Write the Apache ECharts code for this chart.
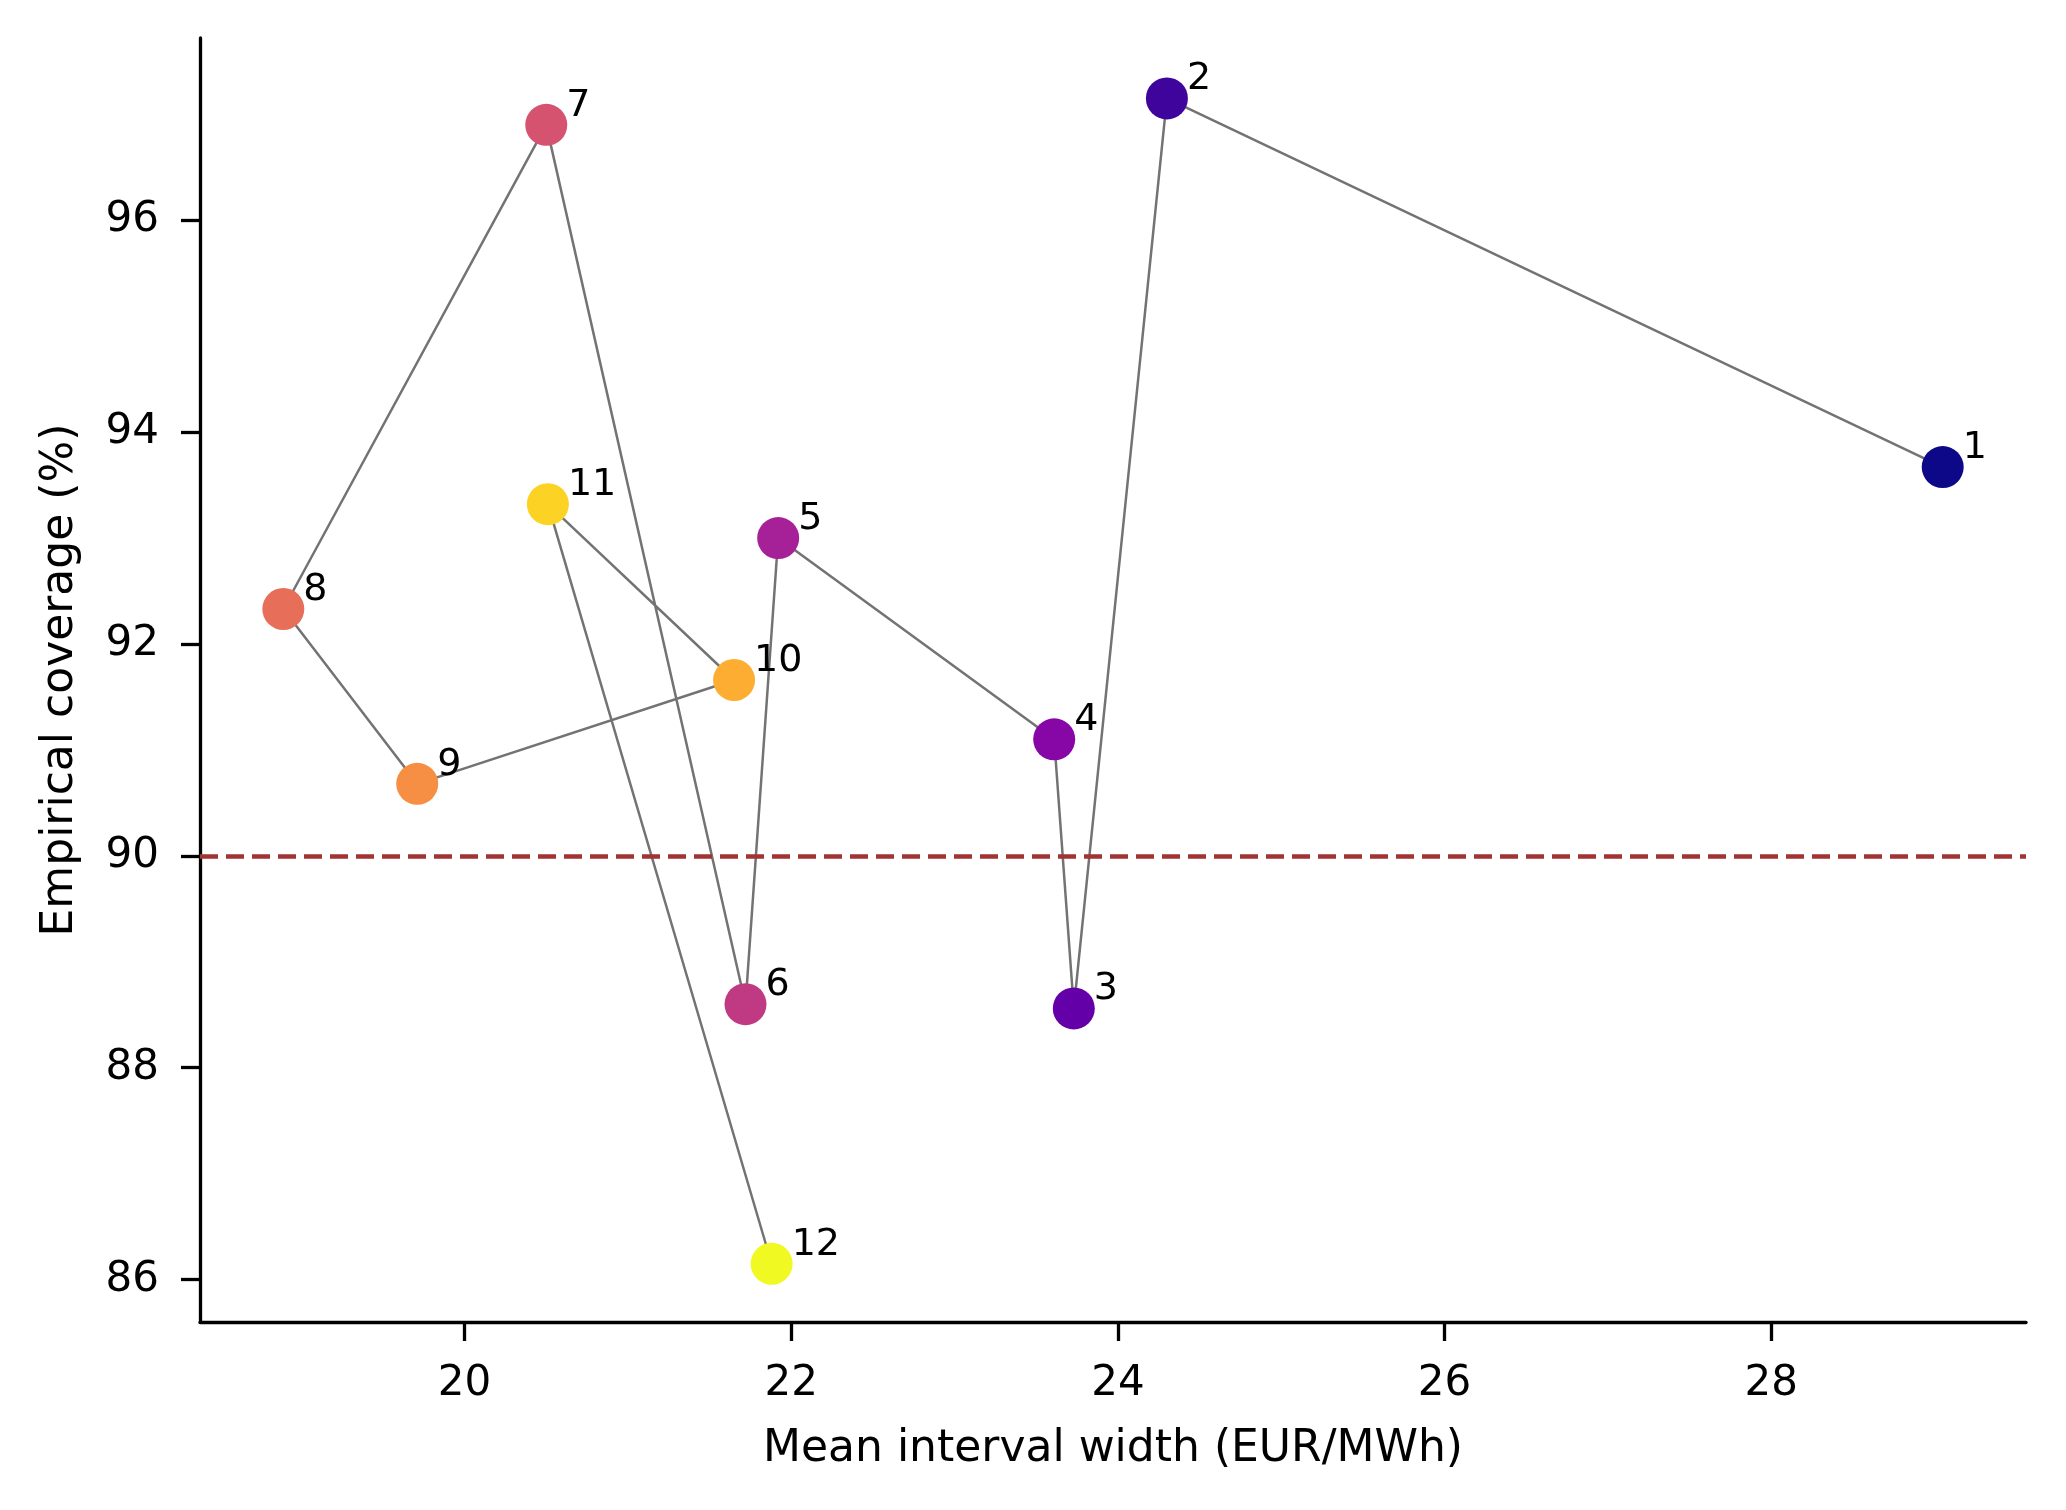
<!DOCTYPE html>
<html lang="en" style="height: 100%">
<head>
  <meta charset="utf-8">
</head>
<body style="height: 100%; margin: 0; background: #ffffff">
<div id="container" style="width: 2066px; height: 1510px"></div>

<script type="text/javascript" src="https://cdn.jsdelivr.net/npm/echarts@6.0.0/dist/echarts.min.js"></script>
<script type="text/javascript">
  // data
  var labels = ['1', '2', '3', '4', '5', '6', '7', '8', '9', '10', '11', '12'];
  var widths = [29.05, 24.30, 23.73, 23.61, 21.92, 21.72, 20.50, 18.89, 19.71, 21.65, 20.51, 21.88];
  var coverage = [93.67, 97.15, 88.56, 91.10, 93.00, 88.60, 96.90, 92.33, 90.68, 91.66, 93.32, 86.15];
  var yTicks = [86, 88, 90, 92, 94, 96];
  var xTicks = [20, 22, 24, 26, 28];
  var target = 90;

  // plasma colormap, sampled at i/11
  var plasma = ['#0d0887', '#3e049c', '#6300a7', '#8606a6', '#a62098', '#c03a83',
                '#d5536f', '#e76f5a', '#f68f44', '#fdae32', '#fcd225', '#f0f921'];

  var dom = document.getElementById('container');
  var myChart = echarts.init(dom, null, { renderer: 'canvas' });

  var pts = widths.map(function (w, i) {
    return {
      value: [w, coverage[i]],
      name: labels[i],
      itemStyle: { color: plasma[i], opacity: 1 }
    };
  });

  var font = 'DejaVu Sans';
  var axisLine = { show: true, lineStyle: { color: '#000', width: 3.3 } };

  var option = {
    animation: false,
    backgroundColor: '#fff',
    grid: { left: 200, right: 40, top: 38, bottom: 188, containLabel: false },
    xAxis: {
      type: 'value',
      min: 18.38, max: 29.56,
      name: 'Mean interval width (EUR/MWh)',
      nameLocation: 'middle',
      nameGap: 106,
      nameTextStyle: { fontFamily: font, fontSize: 44, color: '#000' },
      axisLine: axisLine,
      axisTick: { show: true, length: 19, lineStyle: { color: '#000', width: 3.3 }, customValues: xTicks },
      axisLabel: { fontFamily: font, fontSize: 42, color: '#000', margin: 41, customValues: xTicks },
      splitLine: { show: false }
    },
    yAxis: {
      type: 'value',
      min: 85.6, max: 97.72,
      name: 'Empirical coverage (%)',
      nameLocation: 'middle',
      nameGap: 117,
      nameTextStyle: { fontFamily: font, fontSize: 44, color: '#000' },
      axisLine: axisLine,
      axisTick: { show: true, length: 19, lineStyle: { color: '#000', width: 3.3 }, customValues: yTicks },
      axisLabel: { fontFamily: font, fontSize: 42, color: '#000', margin: 41, customValues: yTicks },
      splitLine: { show: false }
    },
    series: [
      {
        // path joining the points in order
        type: 'line',
        data: widths.map(function (w, i) { return [w, coverage[i]]; }),
        showSymbol: false,
        symbol: 'none',
        lineStyle: { color: '#737373', width: 2.5 },
        z: 1,
        markLine: {
          silent: true,
          symbol: 'none',
          label: { show: false },
          lineStyle: { color: '#a23333', width: 4.5, type: [18, 8] },
          data: [{ yAxis: target }]
        }
      },
      {
        type: 'scatter',
        data: pts,
        symbolSize: 42,
        z: 3,
        label: {
          show: true,
          position: [41, 2],
          align: 'left',
          verticalAlign: 'middle',
          fontFamily: font,
          fontSize: 38,
          color: '#000',
          formatter: function (p) { return p.name; }
        }
      }
    ]
  };

  myChart.setOption(option);
  window.addEventListener('resize', myChart.resize);
</script>
</body>
</html>
